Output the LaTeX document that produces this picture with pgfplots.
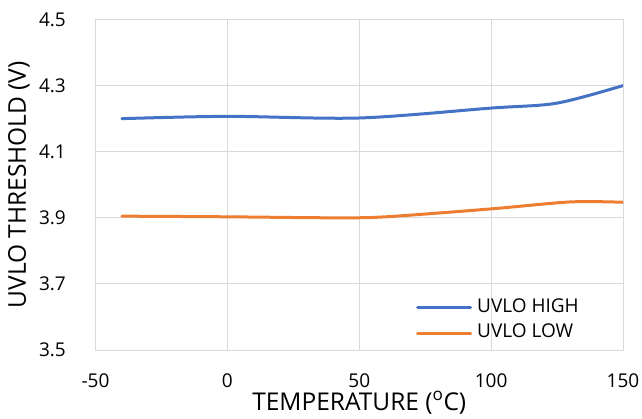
\documentclass[border=0pt]{standalone}
\usepackage{fontspec}
\setmainfont{Open Sans}
\usepackage{pgfplots}
\pgfplotsset{compat=1.18}
\definecolor{cblue}{HTML}{4472C4}
\definecolor{corange}{HTML}{ED7D31}
\definecolor{cgrid}{HTML}{D9D9D9}
\begin{document}
\begin{tikzpicture}
\path[use as bounding box] (-95.5pt,-68pt) rectangle (546.5pt,350pt);
\begin{axis}[
  at={(0,0)}, anchor=south west,
  scale only axis, width=527.5pt, height=330.5pt,
  xmin=-50, xmax=150, ymin=3.5, ymax=4.5,
  xtick={-50,0,50,100,150},
  ytick={3.5,3.7,3.9,4.1,4.3,4.5},
  yticklabels={3.5,3.7,3.9,4.1,4.3,4.5},
  xticklabels={-50,0,50,100,150},
  major tick length=0pt,
  grid=major,
  major grid style={cgrid, line width=1pt},
  axis line style={cgrid, line width=1pt},
  tick style={draw=none},
  xticklabel style={font=\fontsize{19}{22}\selectfont, anchor=base, inner sep=0pt, yshift=-37pt},
  yticklabel style={font=\fontsize{19}{22}\selectfont, anchor=east, inner sep=0pt, xshift=-29.5pt},
  xlabel={TEMPERATURE (\textsuperscript{o}C)},
  ylabel={UVLO THRESHOLD (V)},
  xlabel style={font=\fontsize{24.5}{28}\selectfont, at={(axis description cs:0.5,0)}, anchor=base, yshift=-60pt, inner sep=0pt},
  ylabel style={font=\fontsize{24.5}{28}\selectfont, at={(axis description cs:0,0.5)}, anchor=base, yshift=69.5pt, inner sep=0pt},
  legend style={draw=none, fill=none, at={(axis description cs:0.6076,0.0893)}, anchor=west,
    font=\fontsize{19}{22}\selectfont, inner sep=0pt, row sep=9pt,
    nodes={inner sep=0pt, text height=13pt, text depth=3.5pt}},
  legend cell align=left,
  legend image code/.code={\draw[#1, line width=3pt] (0pt,0pt) -- (53pt,0pt);},
  every axis plot/.append style={line width=3pt, line cap=round},
]
\addplot[cblue, smooth, tension=0.5] coordinates {
(-40,4.200) (0,4.207) (50,4.202) (100,4.232) (125,4.247) (150,4.300)};
\addlegendentry{\hspace{5pt}UVLO HIGH}
\addplot[corange, smooth, tension=0.5] coordinates {
(-40,3.905) (0,3.903) (40,3.900) (60,3.903) (100,3.927) (130,3.948) (150,3.947)};
\addlegendentry{\hspace{5pt}UVLO LOW}
\end{axis}
\end{tikzpicture}
\end{document}
